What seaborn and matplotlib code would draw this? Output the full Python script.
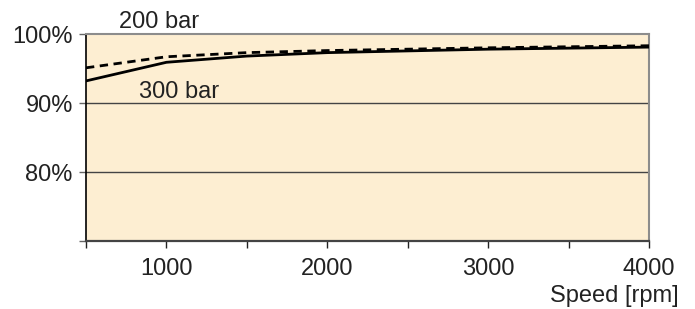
"""Efficiency versus speed for two pressure levels."""

import matplotlib

matplotlib.use("Agg")
import matplotlib.pyplot as plt
import pandas as pd
import seaborn as sns

SPEED_RPM = [500, 1000, 1500, 2000, 3000, 4000]
EFF_200_BAR = [95.1, 96.7, 97.3, 97.6, 98.0, 98.3]
EFF_300_BAR = [93.2, 95.9, 96.8, 97.3, 97.8, 98.1]
Y_TICKS = [70, 80, 90, 100]
Y_TICK_LABELS = ["", "80%", "90%", "100%"]
X_TICKS = [500, 1000, 1500, 2000, 2500, 3000, 3500, 4000]
X_TICK_LABELS = ["", "1000", "", "2000", "", "3000", "", "4000"]

BACKGROUND = "#FDEED2"
TEXT_COLOR = "#222222"
FONT_SIZE = 17.0

sns.set_theme(style="white")
plt.rcParams["font.family"] = ["Liberation Sans", "DejaVu Sans"]

frame = pd.DataFrame(
    {
        "speed": SPEED_RPM * 2,
        "efficiency": EFF_200_BAR + EFF_300_BAR,
        "pressure": ["200 bar"] * len(SPEED_RPM) + ["300 bar"] * len(SPEED_RPM),
    }
)

fig = plt.figure(figsize=(6.95, 3.09), dpi=100)
ax = fig.add_axes([86 / 695, 1 - 241 / 309, (649 - 86) / 695, (241 - 34) / 309])
ax.set_facecolor(BACKGROUND)

for y in (80, 90):
    ax.axhline(y, color="#444444", lw=1.0, zorder=1)

sns.lineplot(
    data=frame[frame["pressure"] == "200 bar"], x="speed", y="efficiency",
    ax=ax, color="black", lw=2.0, linestyle=(0, (3.0, 2.0)), zorder=3,
)
sns.lineplot(
    data=frame[frame["pressure"] == "300 bar"], x="speed", y="efficiency",
    ax=ax, color="black", lw=2.0, zorder=3,
)

ax.set_xlim(500, 4000)
ax.set_ylim(70, 100)
ax.set_xticks(X_TICKS)
ax.set_xticklabels(X_TICK_LABELS)
ax.set_yticks(Y_TICKS)
ax.set_yticklabels(Y_TICK_LABELS)
ax.set_xlabel("")
ax.set_ylabel("")
ax.tick_params(axis="x", direction="out", length=5, width=1, color="#222222",
               labelsize=FONT_SIZE, labelcolor=TEXT_COLOR, pad=7, bottom=True)
ax.tick_params(axis="y", direction="out", length=5, width=1, color="#666666",
               labelsize=FONT_SIZE, labelcolor=TEXT_COLOR, pad=4.5, left=True)

ax.spines["left"].set_color("black")
ax.spines["left"].set_linewidth(1.2)
ax.spines["bottom"].set_color("#444444")
ax.spines["bottom"].set_linewidth(1.6)
for side in ("top", "right"):
    ax.spines[side].set_color("#8c8c8c")
    ax.spines[side].set_linewidth(1.5)
    ax.spines[side].set_visible(True)

fig.text(159 / 695, 1 - 22 / 309, "200 bar", ha="center", va="center",
         fontsize=FONT_SIZE, color=TEXT_COLOR)
fig.text(179 / 695, 1 - 92 / 309, "300 bar", ha="center", va="center",
         fontsize=FONT_SIZE, color=TEXT_COLOR)
fig.text(679 / 695, 1 - 296 / 309, "Speed [rpm]", ha="right", va="center",
         fontsize=FONT_SIZE, color=TEXT_COLOR)

fig.savefig("out.png", dpi=100, facecolor="white")
plt.close(fig)
